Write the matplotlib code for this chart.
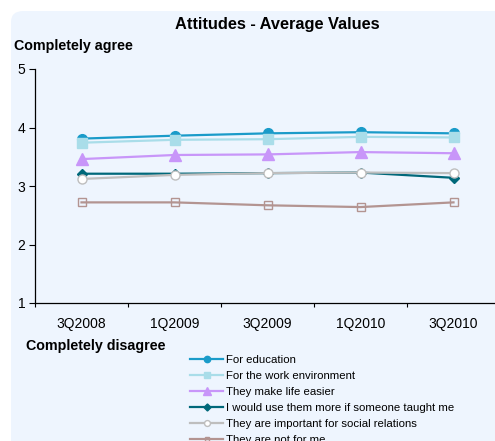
import matplotlib
matplotlib.use("Agg")
import matplotlib.pyplot as plt
from matplotlib.patches import FancyBboxPatch

plt.rcParams['font.family'] = ['Liberation Sans', 'DejaVu Sans']

quarters = ["3Q2008", "1Q2009", "3Q2009", "1Q2010", "3Q2010"]
education = [3.81, 3.86, 3.90, 3.92, 3.90]
work_env = [3.74, 3.79, 3.80, 3.84, 3.83]
life_easier = [3.46, 3.53, 3.54, 3.58, 3.56]
taught_me = [3.21, 3.21, 3.22, 3.23, 3.14]
social = [3.12, 3.19, 3.22, 3.23, 3.22]
not_for_me = [2.72, 2.72, 2.67, 2.64, 2.72]

labels = ["For education", "For the work environment", "They make life easier",
          "I would use them more if someone taught me",
          "They are important for social relations", "They are not for me"]

bg = "#EEF5FE"
fig = plt.figure(figsize=(4.95, 4.41), dpi=100)
fig.patch.set_facecolor("white")
panel = FancyBboxPatch((11 / 495, -0.1), 1.2, 1.1 - 11 / 441,
                       boxstyle="round,pad=0,rounding_size=0.025",
                       transform=fig.transFigure, facecolor=bg, edgecolor="none",
                       zorder=-10)
fig.patches.append(panel)

ax = fig.add_axes([35 / 495, 1 - 303 / 441, 465 / 495, 234 / 441])
ax.set_facecolor("none")
x = list(range(len(quarters)))

styles = [
    (education, "#1A9BC9", "o", 7, "#1A9BC9"),
    (work_env, "#A9DDE9", "s", 7, "#A9DDE9"),
    (life_easier, "#C896F9", "^", 8, "#C896F9"),
    (taught_me, "#00687A", "D", 5.5, "#00687A"),
    (social, "#BEBEBE", "o", 6.5, "white"),
    (not_for_me, "#B39491", "s", 5.5, "none"),
]
handles = []
for (vals, col, mk, ms, fc), lab in zip(styles, labels):
    h, = ax.plot(x, vals, color=col, lw=1.6, marker=mk, ms=ms,
                 markerfacecolor=fc, markeredgecolor=col, markeredgewidth=1.0,
                 label=lab, clip_on=False)
    handles.append(h)

ax.set_xlim(-0.5, 4.5)
ax.set_ylim(1, 5)
ax.set_yticks([1, 2, 3, 4, 5])
ax.set_xticks(x)
ax.set_xticklabels(quarters)
ax.set_xticks([i - 0.5 for i in range(6)], minor=True)
ax.tick_params(axis="x", which="major", length=0, pad=10, labelsize=10)
ax.tick_params(axis="x", which="minor", length=3, direction="out", width=0.8)
ax.tick_params(axis="y", length=4, direction="out", width=0.8, labelsize=10, pad=3)
for s in ["top", "right"]:
    ax.spines[s].set_visible(False)
for s in ["left", "bottom"]:
    ax.spines[s].set_linewidth(0.9)

fig.text(277 / 495, 1 - 24 / 441, "Attitudes - Average Values", ha="center",
         va="center", fontsize=11.8, fontweight="bold")
fig.text(14 / 495, 1 - 46 / 441, "Completely agree", ha="left", va="center",
         fontsize=10.3, fontweight="bold")
fig.text(26 / 495, 1 - 346 / 441, "Completely disagree", ha="left", va="center",
         fontsize=10.3, fontweight="bold")

fig.legend(handles=handles, loc="upper left",
           bbox_to_anchor=(190 / 495, 1 - 355 / 441), frameon=False,
           fontsize=8.2, handlelength=2.9, handletextpad=0.3, labelspacing=0.52,
           borderpad=0, borderaxespad=0, markerscale=0.65)

fig.savefig("out.png", dpi=100, facecolor=fig.get_facecolor())
